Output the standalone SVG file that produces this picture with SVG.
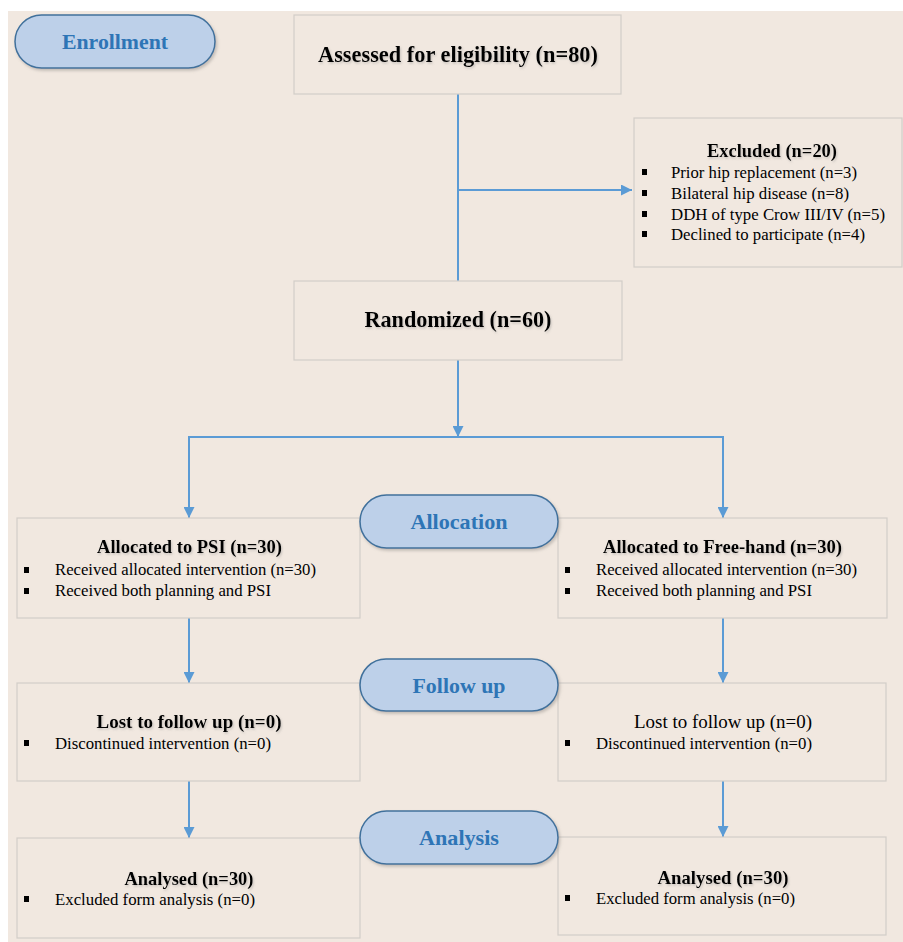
<svg xmlns="http://www.w3.org/2000/svg" width="903" height="942" viewBox="0 0 903 942" font-family="'Liberation Serif', 'Times New Roman', serif">
<defs>
<marker id="ah" viewBox="0 0 10 10" refX="10" refY="5" markerWidth="5.5" markerHeight="5.5" orient="auto" markerUnits="strokeWidth">
<path d="M0,0 L10,5 L0,10 z" fill="#5b9bd5"/>
</marker>
<filter id="sh" x="-10%" y="-20%" width="125%" height="150%">
<feDropShadow dx="1.5" dy="2" stdDeviation="1.5" flood-color="#8a8580" flood-opacity="0.45"/>
</filter>
<filter id="ts" x="-5%" y="-30%" width="110%" height="160%">
<feDropShadow dx="1" dy="1.5" stdDeviation="1" flood-color="#777" flood-opacity="0.35"/>
</filter>
</defs>
<style>
.box{fill:#f1e8e0;stroke:#d2cdc8;stroke-width:1.2}
.pill{fill:#bdd0e9;stroke:#41719c;stroke-width:1.5}
.pt{font-weight:bold;font-size:22px;fill:#2e75b6;text-anchor:middle}
.tt{font-weight:bold;font-size:18.6px;fill:#000;text-anchor:middle;filter:url(#ts)}
.big{font-size:22.3px}
.it{font-size:17px;fill:#000}
.nt{font-size:19px}
.rt{font-size:19px;fill:#000;text-anchor:middle}
.bu{fill:#000}
.con{fill:none;stroke:#5b9bd5;stroke-width:2}
</style>
<rect x="0" y="0" width="903" height="942" fill="#ffffff"/>
<rect x="8" y="11" width="895" height="931" fill="#f1e8e0"/>

<g id="connectors">
<line class="con" x1="458" y1="94" x2="458" y2="281"/>
<line class="con" x1="458" y1="190" x2="632" y2="190" marker-end="url(#ah)"/>
<line class="con" x1="458" y1="360" x2="458" y2="437" marker-end="url(#ah)"/>
<polyline class="con" points="189,518 189,437 723,437 723,518"/>
<line class="con" x1="189" y1="500" x2="189" y2="518" marker-end="url(#ah)"/>
<line class="con" x1="723" y1="500" x2="723" y2="518" marker-end="url(#ah)"/>
<line class="con" x1="189" y1="618" x2="189" y2="683" marker-end="url(#ah)"/>
<line class="con" x1="723" y1="618" x2="723" y2="683" marker-end="url(#ah)"/>
<line class="con" x1="189" y1="781" x2="189" y2="838" marker-end="url(#ah)"/>
<line class="con" x1="723" y1="781" x2="723" y2="837" marker-end="url(#ah)"/>
</g>

<g id="enrollment">
<rect class="pill" x="15" y="15" width="200" height="53" rx="26.5" filter="url(#sh)"/>
<text class="pt" x="115" y="49" textLength="106" lengthAdjust="spacingAndGlyphs">Enrollment</text>
</g>

<g id="assessed">
<rect class="box" x="294" y="15" width="327" height="79"/>
<text class="tt big" x="458" y="62" textLength="280" lengthAdjust="spacingAndGlyphs">Assessed for eligibility (n=80)</text>
</g>

<g id="excluded">
<rect class="box" x="634" y="118" width="268" height="149"/>
<text class="tt" x="772" y="157" textLength="130" lengthAdjust="spacingAndGlyphs">Excluded (n=20)</text>
<rect class="bu" x="642" y="169" width="5" height="6"/>
<rect class="bu" x="642" y="190" width="5" height="6"/>
<rect class="bu" x="642" y="211" width="5" height="6"/>
<rect class="bu" x="642" y="231" width="5" height="6"/>
<text class="it" x="671" y="178" textLength="186" lengthAdjust="spacingAndGlyphs">Prior hip replacement (n=3)</text>
<text class="it" x="671" y="199" textLength="178" lengthAdjust="spacingAndGlyphs">Bilateral hip disease (n=8)</text>
<text class="it" x="671" y="220" textLength="214" lengthAdjust="spacingAndGlyphs">DDH of type Crow III/IV (n=5)</text>
<text class="it" x="671" y="240" textLength="194" lengthAdjust="spacingAndGlyphs">Declined to participate (n=4)</text>
</g>

<g id="randomized">
<rect class="box" x="294" y="281" width="328" height="79"/>
<text class="tt big" x="458" y="327" textLength="187" lengthAdjust="spacingAndGlyphs">Randomized (n=60)</text>
</g>

<g id="alloc-psi">
<rect class="box" x="17" y="518" width="343" height="100"/>
<text class="tt" x="189.5" y="553" textLength="185" lengthAdjust="spacingAndGlyphs">Allocated to PSI (n=30)</text>
<rect class="bu" x="24" y="567" width="5" height="6"/>
<rect class="bu" x="24" y="588" width="5" height="6"/>
<text class="it" x="55" y="575" textLength="261" lengthAdjust="spacingAndGlyphs">Received allocated intervention (n=30)</text>
<text class="it" x="55" y="596" textLength="216" lengthAdjust="spacingAndGlyphs">Received both planning and PSI</text>
</g>

<g id="alloc-free">
<rect class="box" x="558" y="518" width="329" height="100"/>
<text class="tt" x="722.5" y="553" textLength="239" lengthAdjust="spacingAndGlyphs">Allocated to Free-hand (n=30)</text>
<rect class="bu" x="565" y="567" width="5" height="6"/>
<rect class="bu" x="565" y="588" width="5" height="6"/>
<text class="it" x="596" y="575" textLength="261" lengthAdjust="spacingAndGlyphs">Received allocated intervention (n=30)</text>
<text class="it" x="596" y="596" textLength="216" lengthAdjust="spacingAndGlyphs">Received both planning and PSI</text>
</g>

<g id="allocation">
<rect class="pill" x="360" y="495" width="198" height="53" rx="26.5" filter="url(#sh)"/>
<text class="pt" x="459" y="529" textLength="97" lengthAdjust="spacingAndGlyphs">Allocation</text>
</g>

<g id="lost-psi">
<rect class="box" x="17" y="683" width="343" height="98"/>
<text class="tt nt" x="189" y="728" textLength="185" lengthAdjust="spacingAndGlyphs">Lost to  follow up (n=0)</text>
<rect class="bu" x="24" y="740" width="5" height="6"/>
<text class="it" x="55" y="749" textLength="216" lengthAdjust="spacingAndGlyphs">Discontinued intervention (n=0)</text>
</g>

<g id="lost-free">
<rect class="box" x="558" y="683" width="328" height="98"/>
<text class="rt" x="723" y="728" textLength="178" lengthAdjust="spacingAndGlyphs">Lost to  follow up (n=0)</text>
<rect class="bu" x="565" y="740" width="5" height="6"/>
<text class="it" x="596" y="749" textLength="216" lengthAdjust="spacingAndGlyphs">Discontinued intervention (n=0)</text>
</g>

<g id="followup">
<rect class="pill" x="360" y="659" width="198" height="52" rx="26" filter="url(#sh)"/>
<text class="pt" x="459" y="693" textLength="93" lengthAdjust="spacingAndGlyphs">Follow up</text>
</g>

<g id="analysed-psi">
<rect class="box" x="17" y="838" width="343" height="100"/>
<text class="tt nt" x="189" y="885" textLength="129" lengthAdjust="spacingAndGlyphs">Analysed (n=30)</text>
<rect class="bu" x="24" y="896" width="5" height="6"/>
<text class="it" x="55" y="905" textLength="200" lengthAdjust="spacingAndGlyphs">Excluded form analysis (n=0)</text>
</g>

<g id="analysed-free">
<rect class="box" x="558" y="837" width="328" height="98"/>
<text class="tt nt" x="723" y="884" textLength="131" lengthAdjust="spacingAndGlyphs">Analysed (n=30)</text>
<rect class="bu" x="565" y="895" width="5" height="6"/>
<text class="it" x="596" y="904" textLength="199" lengthAdjust="spacingAndGlyphs">Excluded form analysis (n=0)</text>
</g>

<g id="analysis">
<rect class="pill" x="360" y="811" width="198" height="53" rx="26.5" filter="url(#sh)"/>
<text class="pt" x="459" y="845" textLength="80" lengthAdjust="spacingAndGlyphs">Analysis</text>
</g>
</svg>
